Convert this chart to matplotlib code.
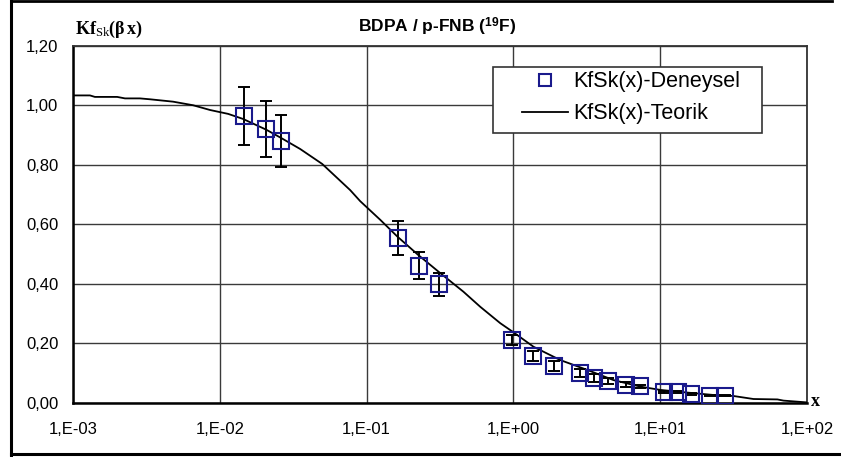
import matplotlib
matplotlib.use("Agg")
import matplotlib.pyplot as plt
from matplotlib.lines import Line2D
from matplotlib.patches import Rectangle
from matplotlib.ticker import FixedLocator, FixedFormatter

# ---- data ----
exp_x = [0.0147, 0.0207, 0.0262, 0.163, 0.229, 0.311, 0.983, 1.37, 1.88,
         2.86, 3.52, 4.44, 5.82, 7.33, 10.6, 13.2, 16.2, 22.0, 27.8]
exp_y = [0.964, 0.920, 0.880, 0.554, 0.461, 0.399, 0.212, 0.157, 0.124,
         0.100, 0.084, 0.074, 0.062, 0.056, 0.036, 0.036, 0.030, 0.025, 0.025]
exp_err = [0.096, 0.094, 0.088, 0.057, 0.046, 0.038, 0.016, 0.016, 0.016,
           0.014, 0.014, 0.011, 0.008, 0.006, 0.004, 0.004, 0.003, 0.003, 0.003]

theo_x = [0.001, 0.001305, 0.00141, 0.00200, 0.00226, 0.00286, 0.00335, 0.00481,
          0.00658, 0.00859, 0.0114, 0.0144, 0.0207, 0.0262, 0.0353, 0.0498,
          0.0773, 0.0904, 0.124, 0.162, 0.225, 0.318, 0.456, 0.595, 0.814,
          0.984, 1.37, 2.09, 3.19, 4.80, 7.33, 10.0, 15.3, 23.0, 31.6, 43.2,
          62.9, 69.2, 100.0]
theo_y = [1.033, 1.033, 1.028, 1.028, 1.023, 1.023, 1.020, 1.012, 1.000, 0.984,
          0.971, 0.954, 0.918, 0.890, 0.853, 0.803, 0.715, 0.678, 0.615, 0.559,
          0.497, 0.436, 0.374, 0.323, 0.268, 0.240, 0.189, 0.144, 0.111, 0.077,
          0.055, 0.044, 0.035, 0.027, 0.0235, 0.0134, 0.012, 0.008, 0.002]

x_ticks = [1e-3, 1e-2, 1e-1, 1e0, 1e1, 1e2]
x_ticklabels = ["1,E-03", "1,E-02", "1,E-01", "1,E+00", "1,E+01", "1,E+02"]
y_ticks = [0.0, 0.2, 0.4, 0.6, 0.8, 1.0, 1.2]
y_ticklabels = ["0,00", "0,20", "0,40", "0,60", "0,80", "1,00", "1,20"]

title = r"BDPA / p-FNB ($^{\mathsf{19}}$F)"
label_exp = "KfSk(x)-Deneysel"
label_theo = "KfSk(x)-Teorik"

# ---- style ----
plt.rcParams['font.family'] = ['Liberation Sans', 'DejaVu Sans']
plt.rcParams['mathtext.fontset'] = 'custom'
plt.rcParams['mathtext.rm'] = 'Liberation Serif'
plt.rcParams['mathtext.bf'] = 'Liberation Serif:bold'
plt.rcParams['mathtext.it'] = 'Liberation Serif:italic'
plt.rcParams['mathtext.sf'] = 'Liberation Sans:bold'

W, H = 841, 457
fig = plt.figure(figsize=(W / 100, H / 100), dpi=100)
ax = fig.add_axes([73 / W, 1 - 403 / H, (807 - 73) / W, (403 - 45.7) / H])

ax.set_xscale('log')
ax.set_xlim(1e-3, 1e2)
ax.set_ylim(0, 1.2)

ax.xaxis.set_major_locator(FixedLocator(x_ticks))
ax.xaxis.set_major_formatter(FixedFormatter(x_ticklabels))
ax.xaxis.set_minor_locator(FixedLocator([]))
ax.yaxis.set_major_locator(FixedLocator(y_ticks))
ax.yaxis.set_major_formatter(FixedFormatter(y_ticklabels))

ax.grid(True, which='major', color='#3a3a3a', linewidth=1.0)
ax.set_axisbelow(True)
ax.tick_params(axis='both', length=0, labelsize=12)
ax.tick_params(axis='x', pad=14)
ax.tick_params(axis='y', pad=10.5)

for s in ['left', 'bottom']:
    ax.spines[s].set_linewidth(1.8)
    ax.spines[s].set_color('black')
for s in ['top', 'right']:
    ax.spines[s].set_linewidth(1.3)
    ax.spines[s].set_color('#333333')

ax.plot(theo_x, theo_y, color='black', linewidth=1.3, zorder=3)
ax.errorbar(exp_x, exp_y, yerr=exp_err, fmt='none', ecolor='black',
            elinewidth=1.4, capsize=4.5, capthick=1.4, zorder=4)
ax.plot(exp_x, exp_y, linestyle='none', marker='s', markersize=11,
        markerfacecolor='none', markeredgecolor='#1a1a8c',
        markeredgewidth=1.5, zorder=5)

# legend frame (drawn separately to match layout)
ax_w = 807 - 73
ax_h = 403 - 45.7
def ax_pt(px, py):
    return ((px - 73) / ax_w, (403 - py) / ax_h)
fx0, fy1 = ax_pt(493, 66.7)
fx1, fy0 = ax_pt(762, 132.7)
ax.add_patch(Rectangle((fx0, fy0), fx1 - fx0, fy1 - fy0, transform=ax.transAxes,
                       facecolor='white', edgecolor='#333333', linewidth=1.2,
                       zorder=9))

handles = [
    Line2D([], [], linestyle='none', marker='s', markersize=9,
           markerfacecolor='none', markeredgecolor='#1a1a8c', markeredgewidth=1.5),
    Line2D([], [], color='black', linewidth=1.3),
]
lx, ly = ax_pt(522, 71.5)
leg = ax.legend(handles, [label_exp, label_theo], loc='upper left',
                bbox_to_anchor=(lx, ly), borderaxespad=0,
                fontsize=15.5, frameon=False,
                handlelength=2.15, handletextpad=0.25, borderpad=0,
                labelspacing=0.5)
leg.set_zorder(10)

fig.text(437.5 / W, 1 - 27 / H, title, ha='center', va='center',
         fontsize=12.5, fontweight='bold')
fig.text(75 / W, 1 - 29 / H, r"$\mathbf{Kf}_{\mathrm{Sk}}\mathbf{(β\,x)}$",
         ha='left', va='center', fontsize=13)
fig.text(811 / W, 1 - 402 / H, "x", ha='left', va='center', fontsize=13,
         fontweight='bold', family='Liberation Serif')

# outer frame: left, top, bottom lines
fx = lambda p: p / W
fy = lambda p: 1 - p / H
fig.add_artist(Line2D([fx(10.5), fx(10.5)], [fy(0), fy(455)], color='black',
                      linewidth=2.2, transform=fig.transFigure))
fig.add_artist(Line2D([fx(10.5), fx(832)], [fy(0.8), fy(0.8)], color='black',
                      linewidth=2.0, transform=fig.transFigure))
fig.add_artist(Line2D([fx(10.5), fx(841)], [fy(454), fy(454)], color='black',
                      linewidth=2.2, transform=fig.transFigure))

fig.savefig("out.png", dpi=100)
